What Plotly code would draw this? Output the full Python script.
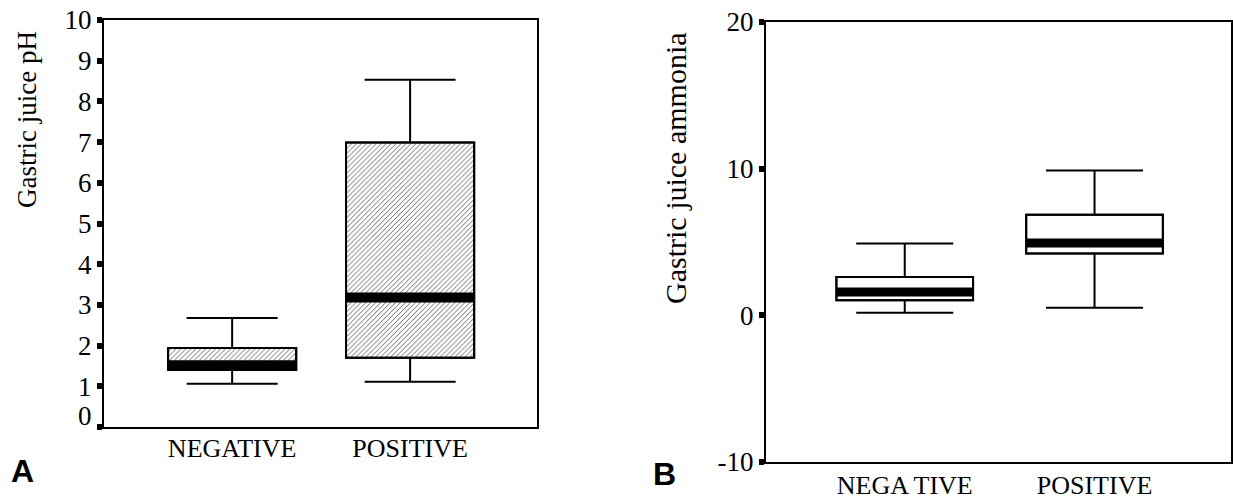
import plotly.graph_objects as go

# ---------------- data ----------------
categories = ["NEGATIVE", "POSITIVE"]
categories_b = ["NEGA TIVE", "POSITIVE"]

# Panel A: gastric juice pH
ph_lower = [1.06, 1.11]
ph_q1 = [1.40, 1.70]
ph_median = [1.52, 3.18]
ph_q3 = [1.94, 6.99]
ph_upper = [2.68, 8.53]

# Panel B: gastric juice ammonia
nh3_lower = [0.18, 0.52]
nh3_q1 = [1.02, 4.21]
nh3_median = [1.59, 4.94]
nh3_q3 = [2.61, 6.86]
nh3_upper = [4.89, 9.88]

ph_ticks = [0, 1, 2, 3, 4, 5, 6, 7, 8, 9, 10]
nh3_ticks = [-10, 0, 10, 20]

# ---------------- styling ----------------
SERIF = "Liberation Serif"
SANS = "Liberation Sans"
BOX_W = 0.72
W = 1233
H = 499
pos = [0, 1]

fig = go.Figure()


def add_panel(xa, ya, lower, q1, med, q3, upper, hatched, band):
    # hatched / plain box body
    fig.add_trace(go.Bar(
        x=pos, y=[b - a for a, b in zip(q1, q3)], base=q1, width=BOX_W,
        marker=dict(color="white",
                    line=dict(color="black", width=2),
                    pattern=dict(shape="/" if hatched else "", size=3.5,
                                 solidity=0.25, fgcolor="#555555", bgcolor="white")),
        xaxis=xa, yaxis=ya, showlegend=False, hoverinfo="skip"))
    # box outline + whiskers
    for i in range(2):
        fig.add_trace(go.Box(
            x=[pos[i]], q1=[q1[i]], median=[med[i]], q3=[q3[i]],
            lowerfence=[lower[i]], upperfence=[upper[i]],
            width=BOX_W, whiskerwidth=0.71,
            line=dict(color="black", width=2), fillcolor="rgba(0,0,0,0)",
            xaxis=xa, yaxis=ya, showlegend=False, hoverinfo="skip"))
    # thick median band
    mx, my = [], []
    for i in range(2):
        mx += [pos[i] - BOX_W / 2, pos[i] + BOX_W / 2, None]
        my += [med[i], med[i], None]
    fig.add_trace(go.Scatter(
        x=mx, y=my, mode="lines", line=dict(color="black", width=band),
        xaxis=xa, yaxis=ya, showlegend=False, hoverinfo="skip"))


add_panel("x", "y", ph_lower, ph_q1, ph_median, ph_q3, ph_upper, True, 10)
add_panel("x2", "y2", nh3_lower, nh3_q1, nh3_median, nh3_q3, nh3_upper, False, 9)

axis_common = dict(showline=True, linecolor="black", linewidth=2, mirror=True,
                   showgrid=False, zeroline=False)

fig.update_layout(
    width=W, height=H,
    margin=dict(l=0, r=0, t=0, b=0),
    paper_bgcolor="white", plot_bgcolor="white",
    template="none",
    barmode="overlay",
    xaxis=dict(domain=[104 / W, 537 / W], range=[-0.72, 1.713],
               tickvals=pos, ticktext=categories, ticks="",
               ticklabelstandoff=-3,
               tickfont=dict(family=SERIF, size=26, color="black"), **axis_common),
    yaxis=dict(domain=[(H - 427) / H, (H - 20) / H], range=[0, 10],
               tickvals=ph_ticks,
               ticktext=["" if t == 0 else str(t) for t in ph_ticks],
               ticks="outside", ticklen=5, tickwidth=6, tickcolor="black",
               tickfont=dict(family=SERIF, size=27, color="black"), **axis_common),
    xaxis2=dict(domain=[766 / W, 1231 / W], range=[-0.731, 1.719],
                tickvals=pos, ticktext=categories_b, ticks="",
                ticklabelstandoff=-1,
                tickfont=dict(family=SERIF, size=26, color="black"), **axis_common),
    yaxis2=dict(domain=[(H - 462) / H, (H - 22) / H], range=[-10, 20],
                tickvals=nh3_ticks, ticktext=[str(t) for t in nh3_ticks],
                ticks="outside", ticklen=5, tickwidth=6, tickcolor="black",
                tickfont=dict(family=SERIF, size=27, color="black"),
                anchor="x2", **axis_common),
)
fig.update_layout(xaxis2_anchor="y2")

annotations = [
    # offset zero label on panel A
    dict(text="0", xref="x domain", yref="y", x=0, y=0.27, xanchor="right",
         yanchor="middle", xshift=-10, showarrow=False,
         font=dict(family=SERIF, size=27, color="black")),
    dict(text="Gastric juice pH", xref="paper", yref="paper",
         x=27 / W, y=1 - 120 / H, textangle=-90, showarrow=False,
         xanchor="center", yanchor="middle",
         font=dict(family=SERIF, size=27, color="black")),
    dict(text="Gastric juice ammonia", xref="paper", yref="paper",
         x=675 / W, y=1 - 168 / H, textangle=-90, showarrow=False,
         xanchor="center", yanchor="middle",
         font=dict(family=SERIF, size=30, color="black")),
    dict(text="<b>A</b>", xref="paper", yref="paper", x=22 / W, y=1 - 471 / H,
         showarrow=False, xanchor="center", yanchor="middle",
         font=dict(family=SANS, size=32, color="black")),
    dict(text="<b>B</b>", xref="paper", yref="paper", x=664 / W, y=1 - 474 / H,
         showarrow=False, xanchor="center", yanchor="middle",
         font=dict(family=SANS, size=32, color="black")),
]
fig.update_layout(annotations=annotations)

fig.write_html("out.html",
               config={"displayModeBar": False},
               post_script="document.body.style.margin='0';"
                           "document.body.style.overflow='hidden';")
